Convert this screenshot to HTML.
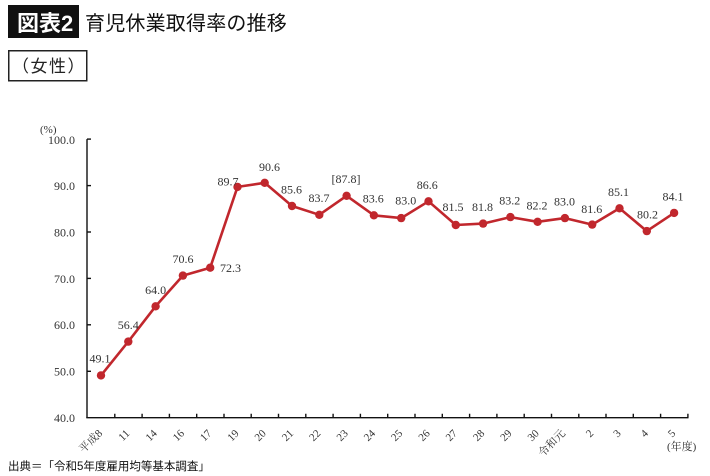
<!DOCTYPE html>
<html><head><meta charset="utf-8"><style>
html,body{margin:0;padding:0;background:#fff;}
svg{display:block;}
.s{font-family:"Liberation Serif","Noto Serif CJK JP",serif;fill:#333;}
.j{font-family:"Liberation Sans","Noto Sans CJK JP",sans-serif;}
</style></head><body>
<svg width="710" height="476" viewBox="0 0 710 476" xmlns="http://www.w3.org/2000/svg">
<rect width="710" height="476" fill="#fff"/>
<!-- title -->
<rect x="8" y="5" width="71" height="33" fill="#111"/>
<text x="17" y="31" class="j" font-size="22" font-weight="bold" fill="#fff">図表2</text>
<text x="85" y="30" class="j" font-size="20" fill="#111" letter-spacing="0.2">育児休業取得率の推移</text>
<rect x="8.75" y="50.75" width="78" height="30" fill="none" stroke="#222" stroke-width="1.5"/>
<text x="12" y="72" class="j" font-size="17" fill="#222" letter-spacing="1.5">（女性）</text>

<!-- axes -->
<g stroke="#111" stroke-width="1.4" fill="none">
<line x1="87" y1="139.1" x2="87" y2="418"/>
<line x1="86.3" y1="417.7" x2="688.5" y2="417.7"/>
<line x1="87" y1="139.1" x2="91" y2="139.1"/>
<line x1="87" y1="185.6" x2="91" y2="185.6"/>
<line x1="87" y1="232.0" x2="91" y2="232.0"/>
<line x1="87" y1="278.4" x2="91" y2="278.4"/>
<line x1="87" y1="324.8" x2="91" y2="324.8"/>
<line x1="87" y1="371.3" x2="91" y2="371.3"/>
<path d="M114.8 417.7V413.7M142.1 417.7V413.7M169.4 417.7V413.7M196.7 417.7V413.7M224.0 417.7V413.7M251.2 417.7V413.7M278.5 417.7V413.7M305.8 417.7V413.7M333.1 417.7V413.7M360.4 417.7V413.7M387.7 417.7V413.7M415.0 417.7V413.7M442.3 417.7V413.7M469.6 417.7V413.7M496.9 417.7V413.7M524.2 417.7V413.7M551.5 417.7V413.7M578.8 417.7V413.7M606.0 417.7V413.7M633.3 417.7V413.7M660.6 417.7V413.7M687.9 417.7V413.7"/>
</g>

<!-- y labels -->
<g class="s" font-size="12" text-anchor="end">
<text x="75" y="144">100.0</text>
<text x="75" y="190">90.0</text>
<text x="75" y="236.5">80.0</text>
<text x="75" y="283">70.0</text>
<text x="75" y="329">60.0</text>
<text x="75" y="375.5">50.0</text>
<text x="75" y="422">40.0</text>
</g>
<text x="40" y="133" class="s" font-size="11">(%)</text>

<!-- x labels -->
<g class="s" font-size="11" text-anchor="end">
<text transform="translate(103,434) rotate(-45)">平成8</text>
<text transform="translate(130.3,434) rotate(-45)">11</text>
<text transform="translate(157.6,434) rotate(-45)">14</text>
<text transform="translate(184.9,434) rotate(-45)">16</text>
<text transform="translate(212.2,434) rotate(-45)">17</text>
<text transform="translate(239.5,434) rotate(-45)">19</text>
<text transform="translate(266.7,434) rotate(-45)">20</text>
<text transform="translate(294.0,434) rotate(-45)">21</text>
<text transform="translate(321.3,434) rotate(-45)">22</text>
<text transform="translate(348.6,434) rotate(-45)">23</text>
<text transform="translate(375.9,434) rotate(-45)">24</text>
<text transform="translate(403.2,434) rotate(-45)">25</text>
<text transform="translate(430.5,434) rotate(-45)">26</text>
<text transform="translate(457.8,434) rotate(-45)">27</text>
<text transform="translate(485.1,434) rotate(-45)">28</text>
<text transform="translate(512.4,434) rotate(-45)">29</text>
<text transform="translate(539.6,434) rotate(-45)">30</text>
<text transform="translate(565.9,434) rotate(-45)">令和元</text>
<text transform="translate(594.2,434) rotate(-45)">2</text>
<text transform="translate(621.5,434) rotate(-45)">3</text>
<text transform="translate(648.8,434) rotate(-45)">4</text>
<text transform="translate(676.1,434) rotate(-45)">5</text>
</g>
<text x="667" y="450" class="s" font-size="11">(年度)</text>

<!-- series -->
<polyline fill="none" stroke="#c1272d" stroke-width="2.6" stroke-linejoin="round" points="101.0,375.4 128.3,341.6 155.6,306.3 182.9,275.6 210.2,267.7 237.5,186.9 264.7,182.8 292.0,206.0 319.3,214.8 346.6,195.8 373.9,215.3 401.2,218.1 428.5,201.3 455.8,225.0 483.1,223.6 510.4,217.1 537.6,221.8 564.9,218.1 592.2,224.6 619.5,208.3 646.8,231.1 674.1,212.9"/>
<g fill="#c1272d">
<circle cx="101.0" cy="375.4" r="4.2"/><circle cx="128.3" cy="341.6" r="4.2"/><circle cx="155.6" cy="306.3" r="4.2"/><circle cx="182.9" cy="275.6" r="4.2"/><circle cx="210.2" cy="267.7" r="4.2"/><circle cx="237.5" cy="186.9" r="4.2"/><circle cx="264.7" cy="182.8" r="4.2"/><circle cx="292.0" cy="206.0" r="4.2"/><circle cx="319.3" cy="214.8" r="4.2"/><circle cx="346.6" cy="195.8" r="4.2"/><circle cx="373.9" cy="215.3" r="4.2"/><circle cx="401.2" cy="218.1" r="4.2"/><circle cx="428.5" cy="201.3" r="4.2"/><circle cx="455.8" cy="225.0" r="4.2"/><circle cx="483.1" cy="223.6" r="4.2"/><circle cx="510.4" cy="217.1" r="4.2"/><circle cx="537.6" cy="221.8" r="4.2"/><circle cx="564.9" cy="218.1" r="4.2"/><circle cx="592.2" cy="224.6" r="4.2"/><circle cx="619.5" cy="208.3" r="4.2"/><circle cx="646.8" cy="231.1" r="4.2"/><circle cx="674.1" cy="212.9" r="4.2"/>
</g>

<!-- data labels -->
<g class="s" font-size="12" text-anchor="middle">
<text x="100" y="362.5">49.1</text>
<text x="128.3" y="329">56.4</text>
<text x="155.6" y="293.8">64.0</text>
<text x="183" y="263">70.6</text>
<text x="269.5" y="171">90.6</text>
<text x="291.5" y="193.5">85.6</text>
<text x="319" y="202">83.7</text>
<text x="346" y="182.8">[87.8]</text>
<text x="373.3" y="202.5">83.6</text>
<text x="405.8" y="204.5">83.0</text>
<text x="427.3" y="188.8">86.6</text>
<text x="453" y="211">81.5</text>
<text x="482.5" y="211">81.8</text>
<text x="509.7" y="204.5">83.2</text>
<text x="537" y="209.5">82.2</text>
<text x="564.5" y="205.5">83.0</text>
<text x="591.7" y="212.8">81.6</text>
<text x="618.5" y="196.2">85.1</text>
<text x="647.5" y="218.5">80.2</text>
<text x="673" y="200.5">84.1</text>
</g>
<text x="220" y="272" class="s" font-size="12">72.3</text>
<text x="238.5" y="185.5" class="s" font-size="12" text-anchor="end">89.7</text>

<!-- source -->
<text x="8" y="470" class="j" font-size="11.5" fill="#111">出典＝「令和5年度雇用均等基本調査」</text>
</svg>
</body></html>
